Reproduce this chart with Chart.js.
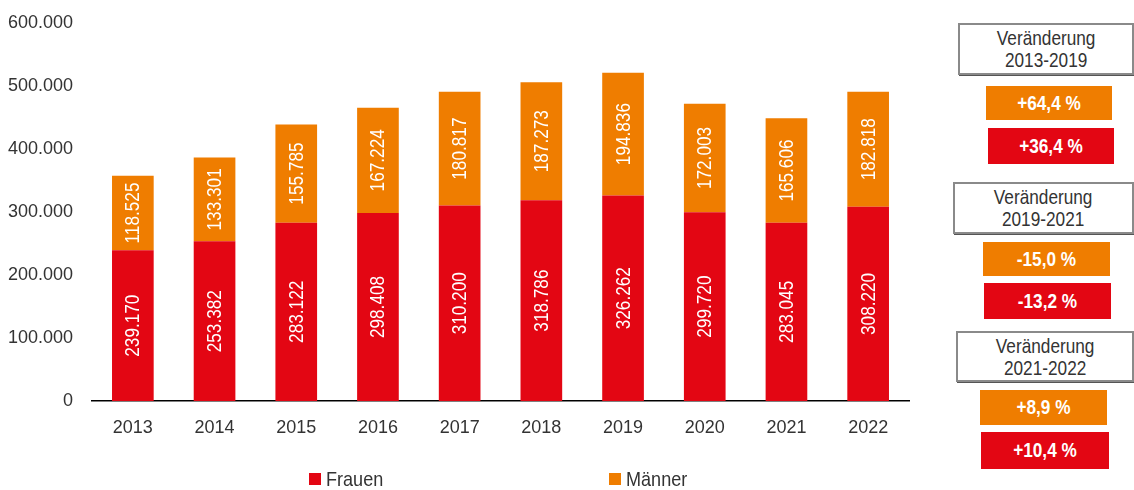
<!DOCTYPE html>
<html>
<head>
<meta charset="utf-8">
<script src="https://cdn.jsdelivr.net/npm/chart.js@4"></script>
<style>
  body { margin: 0; background: #fff; font-family: 'Liberation Sans Narrow', 'Arial Narrow', 'Liberation Sans', sans-serif; }
  #wrap { position: relative; width: 1134px; height: 490px; }
  #chart { position: absolute; left: 0; top: 0; }
  .legend-item { position: absolute; top: 466px; font-size: 21px; color: #333; line-height: 26px; white-space: nowrap; }
  .legend-item span { display: inline-block; width: 12px; height: 12px; margin-right: 5px; vertical-align: 1px; }
  .legend-item b { font-weight: normal; display: inline-block; transform: scaleX(0.86); transform-origin: left center; }
  .head { position: absolute; border: 2px solid #8a8a8a; box-shadow: 1px 1px 0 #555; background: #fff;
          color: #333; font-size: 21px; line-height: 22px; text-align: center; box-sizing: border-box; padding-top: 2px; }
  .head span { display: inline-block; transform: scaleX(0.82); }
  .chg { position: absolute; color: #fff; font-weight: bold; font-size: 20px; text-align: center; box-sizing: border-box; }
  .chg span { display: inline-block; transform: scaleX(0.86); }
</style>
</head>
<body>
<div id="wrap">
  <canvas id="chart" width="940" height="490"></canvas>
</div>
<script>
const years = ['2013', '2014', '2015', '2016', '2017', '2018', '2019', '2020', '2021', '2022'];
const frauen = [239170, 253382, 283122, 298408, 310200, 318786, 326262, 299720, 283045, 308220];
const maenner = [118525, 133301, 155785, 167224, 180817, 187273, 194836, 172003, 165606, 182818];

// Veraenderungen rechts
const periods = ['2013-2019', '2019-2021', '2021-2022'];
const changeMaenner = ['+64,4 %', '-15,0 %', '+8,9 %'];
const changeFrauen = ['+36,4 %', '-13,2 %', '+10,4 %'];

const RED = '#e30613';
const ORANGE = '#ef7d00';
const FONT = "'Liberation Sans Narrow', 'Arial Narrow', 'Liberation Sans', sans-serif";

function fmt(v) {
    return String(v).replace(/\B(?=(\d{3})+(?!\d))/g, '.');
}

// Werte senkrecht in die Balken schreiben
const barLabels = {
    id: 'barLabels',
    afterDatasetsDraw(chart) {
        const ctx = chart.ctx;
        ctx.save();
        ctx.fillStyle = '#fff';
        ctx.font = '20px ' + FONT;
        ctx.textAlign = 'center';
        ctx.textBaseline = 'middle';
        chart.data.datasets.forEach((ds, i) => {
            chart.getDatasetMeta(i).data.forEach((bar, j) => {
                const p = bar.getProps(['x', 'y', 'base'], true);
                ctx.save();
                ctx.translate(p.x, (p.y + p.base) / 2);
                ctx.rotate(-Math.PI / 2);
                ctx.scale(0.86, 1);
                ctx.fillText(fmt(ds.data[j]), 0, 1);
                ctx.restore();
            });
        });
        ctx.restore();
    }
};

const chart = new Chart(document.getElementById('chart'), {
    type: 'bar',
    data: {
        labels: years,
        datasets: [
            { label: 'Frauen', data: frauen, backgroundColor: RED },
            { label: 'Männer', data: maenner, backgroundColor: ORANGE }
        ]
    },
    options: {
        responsive: false,
        devicePixelRatio: 1,
        animation: false,
        layout: { padding: { left: 0, top: 23, right: 31, bottom: 0 } },
        datasets: { bar: { categoryPercentage: 1, barPercentage: 0.51 } },
        plugins: { legend: { display: false }, tooltip: { enabled: false } },
        scales: {
            x: {
                stacked: true,
                grid: { display: false, drawTicks: false },
                border: { display: true, color: '#000', width: 1.5 },
                ticks: { color: '#333', font: { family: FONT, size: 18 }, padding: 16 },
                afterFit(scale) { scale.height = 89; }
            },
            y: {
                stacked: true,
                min: 0,
                max: 600000,
                grid: { display: false, drawTicks: false },
                border: { display: false },
                ticks: {
                    stepSize: 100000,
                    color: '#333',
                    font: { family: FONT, size: 18 },
                    padding: 19,
                    callback: v => fmt(v)
                },
                afterFit(scale) {
                    scale.width = 92;
                    scale.paddingTop = 0;
                    scale.paddingBottom = 0;
                }
            }
        }
    },
    plugins: [barLabels]
});

// Legende
const wrap = document.getElementById('wrap');
const legendX = [309, 609];
chart.data.datasets.forEach((ds, i) => {
    const d = document.createElement('div');
    d.className = 'legend-item';
    d.style.left = legendX[i] + 'px';
    d.innerHTML = `<span style="background:${ds.backgroundColor}"></span><b>${ds.label}</b>`;
    wrap.appendChild(d);
});

// Kaesten rechts
const boxPos = [
    { head: [958, 23, 176, 52], o: [986, 86, 126, 34], r: [988, 128, 126, 36] },
    { head: [953, 182, 181, 52], o: [983, 242, 127, 34], r: [984, 283, 127, 36] },
    { head: [956, 331, 178, 51], o: [980, 390, 127, 35], r: [981, 432, 128, 37] }
];
function place(el, b) {
    el.style.left = b[0] + 'px';
    el.style.top = b[1] + 'px';
    el.style.width = b[2] + 'px';
    el.style.height = b[3] + 'px';
    if (!el.classList.contains('head')) el.style.lineHeight = b[3] + 'px';
}
periods.forEach((p, i) => {
    const h = document.createElement('div');
    h.className = 'head';
    h.innerHTML = `<span>Veränderung<br>${p}</span>`;
    place(h, boxPos[i].head);
    wrap.appendChild(h);

    const o = document.createElement('div');
    o.className = 'chg';
    o.style.background = ORANGE;
    o.innerHTML = `<span>${changeMaenner[i]}</span>`;
    place(o, boxPos[i].o);
    wrap.appendChild(o);

    const r = document.createElement('div');
    r.className = 'chg';
    r.style.background = RED;
    r.innerHTML = `<span>${changeFrauen[i]}</span>`;
    place(r, boxPos[i].r);
    wrap.appendChild(r);
});
</script>
</body>
</html>
